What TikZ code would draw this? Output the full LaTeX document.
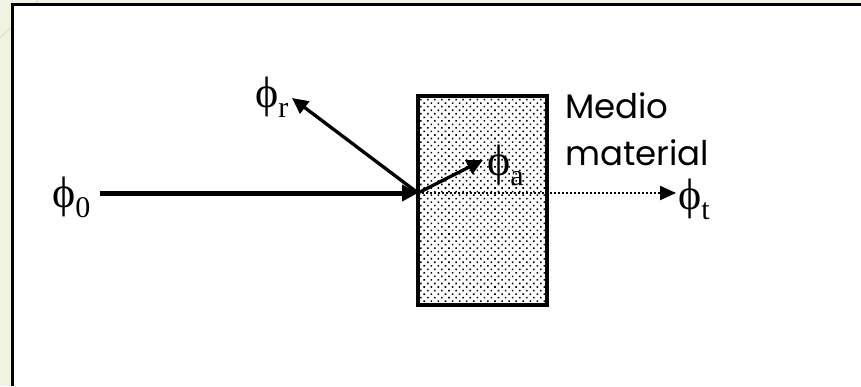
\documentclass[tikz,border=0pt]{standalone}
\usepackage{fontspec}
\setmainfont{Liberation Serif}
\newfontfamily\labelsans{Poppins}
\usetikzlibrary{arrows.meta,patterns.meta}
\definecolor{slidebg}{HTML}{EEF3E2}
\definecolor{slideline}{HTML}{D9DDCF}
\newcommand{\phisym}[1]{{\fontsize{44}{44}\selectfont ϕ}\raisebox{-10pt}{\fontsize{30}{30}\selectfont #1}}
\begin{document}
\begin{tikzpicture}[x=1pt,y=1pt,
  lbl/.style={inner sep=0pt,anchor=base west},
  ray/.style={line width=3.3pt,-{Triangle[length=16pt,width=15pt]}},
  mainray/.style={line width=5pt,-{Triangle[length=16pt,width=16pt]}},
  dotray/.style={line width=2.2pt,dash pattern=on 2pt off 2pt,-{Triangle[length=16pt,width=14pt]}},
  medium/.style={draw,line width=4.5pt,pattern={Dots[distance=5pt,radius=1.1pt,angle=45]}}]
\useasboundingbox (0,0) rectangle (861,386);
% slide background
\fill[slidebg] (0,0) rectangle (861,386);
\draw[slideline,line width=1pt] (0,348) -- (38,386);
\fill[white] (12,0) rectangle (861,381);
\draw[line width=3pt] (12,0) -- (12,381) -- (861,381);
% medium
\draw[medium] (418,290) rectangle (547,81);
% labels
\node[lbl] (phi0) at (52,179) {\phisym{0}};
\node[lbl] (phir) at (255,278) {\phisym{r}};
\node[lbl] (phia) at (487,211) {\phisym{a}};
\node[lbl] (phit) at (678,177) {\phisym{t}};
\node[lbl,align=left,font=\labelsans\fontsize{34}{47}\selectfont] (medio) at (565,220) {Medio\\material};
% coordinates
\coordinate (start) at (100,193);
\coordinate (hit) at (418,193);
\coordinate (rtip) at (292,288);
\coordinate (atip) at (483,226);
\coordinate (ttip) at (676,193);
% rays
\draw[dotray] (hit) -- (ttip);
\draw[mainray] (start) -- (hit);
\draw[ray] (hit) -- (rtip);
\draw[ray] (hit) -- (atip);
\end{tikzpicture}
\end{document}
